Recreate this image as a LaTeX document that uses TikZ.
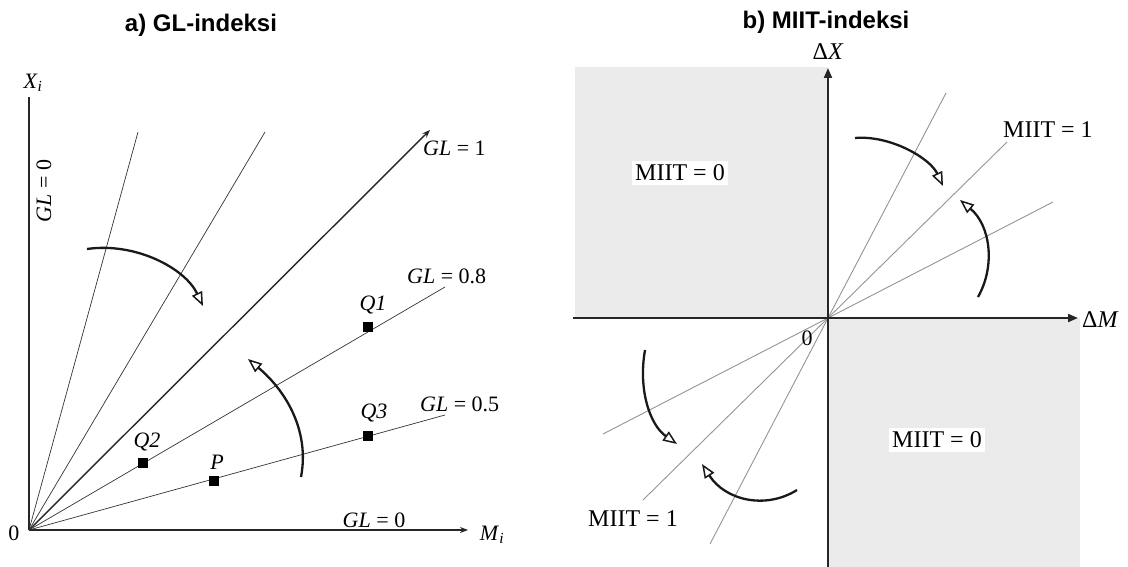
\documentclass[tikz,border=0pt]{standalone}
\usepackage{fontspec}
\setmainfont{Liberation Serif}
\setsansfont{Liberation Sans}
\usetikzlibrary{arrows.meta}
\begin{document}
\begin{tikzpicture}[x=1pt,y=-1pt,
  every node/.style={inner sep=0pt},
  lbl/.style={font=\fontsize{22}{24}\selectfont},
  mlbl/.style={font=\fontsize{24}{26}\selectfont},
  ttl/.style={font=\sffamily\bfseries\fontsize{24}{26}\selectfont},
  axis/.style={line width=1.4pt, draw=black!85},
  axistwo/.style={line width=2pt, draw=black!85},
  ray/.style={line width=0.7pt, draw=black!80},
  mray/.style={line width=0.9pt, draw=black!42},
  turn/.style={line width=2.3pt, draw=black!90, -{Triangle[open, length=14pt, width=11pt, line width=1.5pt]}},
  sq/.style={fill=black, minimum size=10.5pt, inner sep=0pt, rectangle},
  region/.style={fill=black!8},
  wbox/.style={fill=white, inner sep=3.5pt},
  thintip/.style={-{Stealth[length=8pt,width=6pt]}},
  filltip/.style={-{Triangle[length=10pt,width=8pt]}},
]
\useasboundingbox (0,0) rectangle (1128,567);

% ---------- a) GL-indeksi ----------
\node[ttl] (ta) at (201,25) {a) GL-indeksi};
\coordinate (O) at (29,530);
\coordinate (ytop) at (29,97);
\coordinate (xend) at (468,530);
\coordinate (r1) at (138,132);
\coordinate (r2) at (265,132);
\coordinate (g1) at (430,130);
\coordinate (g8) at (445,287);
\coordinate (g5) at (445,415);

\draw[axis] (O) -- (ytop);
\draw[axis, thintip] (O) -- (xend);
\draw[ray] (O) -- (r1);
\draw[ray] (O) -- (r2);
\draw[line width=1.4pt, draw=black!85, thintip] (O) -- (g1);
\draw[ray] (O) -- (g8);
\draw[ray] (O) -- (g5);

\node[sq] (q1) at (368,327) {};
\node[sq] (q2) at (143,463) {};
\node[sq] (p) at (214,481) {};
\node[sq] (q3) at (368,436) {};
\node[lbl] (q1l) at (373,305) {\textit{Q1}};
\node[lbl] (q2l) at (147,442) {\textit{Q2}};
\node[lbl] (pl) at (217,462) {\textit{P}};
\node[lbl] (q3l) at (374,413) {\textit{Q3}};

\node[lbl, anchor=west] (l1) at (423,148) {\textit{GL} = 1};
\node[lbl, anchor=west] (l8) at (407,276) {\textit{GL} = 0.8};
\node[lbl, anchor=west] (l5) at (420,404) {\textit{GL} = 0.5};
\node[lbl] (l0) at (374,520) {\textit{GL} = 0};
\node[lbl, rotate=90] (lv) at (44,191) {\textit{GL} = 0};
\node[lbl] (xi) at (33,83) {\textit{X}\textsubscript{\textit{i}}};
\node[lbl] (mi) at (492,535) {\textit{M}\textsubscript{\textit{i}}};
\node[lbl] (o1) at (14,533) {0};

\draw[turn] (87,249) .. controls (135,242) and (185,268) .. (203,306);
\draw[turn] (301,477) .. controls (310,430) and (285,390) .. (248,359);

% ---------- b) MIIT-indeksi ----------
\fill[region] (575,67) rectangle (828,318);
\fill[region] (828,318) rectangle (1080,567);
\node[ttl] (tb) at (826,22) {b) MIIT-indeksi};
\coordinate (O2) at (828,318);
\coordinate (xl) at (573,318);
\coordinate (xr) at (1078,318);
\coordinate (yb) at (828,567);
\coordinate (yt) at (828,68);
\coordinate (a1) at (946,93);
\coordinate (a2) at (710,544);
\coordinate (b1) at (1007,142);
\coordinate (b2) at (643,500);
\coordinate (c1) at (1053,202);
\coordinate (c2) at (603,434);

\draw[mray] (O2) -- (a1);
\draw[mray] (O2) -- (a2);
\draw[mray] (O2) -- (b1);
\draw[mray] (O2) -- (b2);
\draw[mray] (O2) -- (c1);
\draw[mray] (O2) -- (c2);
\draw[axistwo, filltip] (xl) -- (xr);
\draw[axistwo, filltip] (yb) -- (yt);

\node[mlbl] (dx) at (828,52) {Δ\textit{X}};
\node[mlbl, anchor=west] (dm) at (1082,320) {Δ\textit{M}};
\node[mlbl, wbox] (m0a) at (680,173) {MIIT = 0};
\node[mlbl, wbox] (m0b) at (937,440) {MIIT = 0};
\node[mlbl, anchor=west] (m1a) at (1003,130) {MIIT = 1};
\node[mlbl] (m1b) at (633,519) {MIIT = 1};
\node[lbl] (o2) at (807,338) {0};

\draw[turn] (855,138) .. controls (890,135) and (930,158) .. (943,186);
\draw[turn] (978,297) .. controls (996,265) and (990,225) .. (960,200);
\draw[turn] (645,350) .. controls (638,390) and (650,425) .. (677,444);
\draw[turn] (797,490) .. controls (765,510) and (725,500) .. (702,464);
\end{tikzpicture}
\end{document}
